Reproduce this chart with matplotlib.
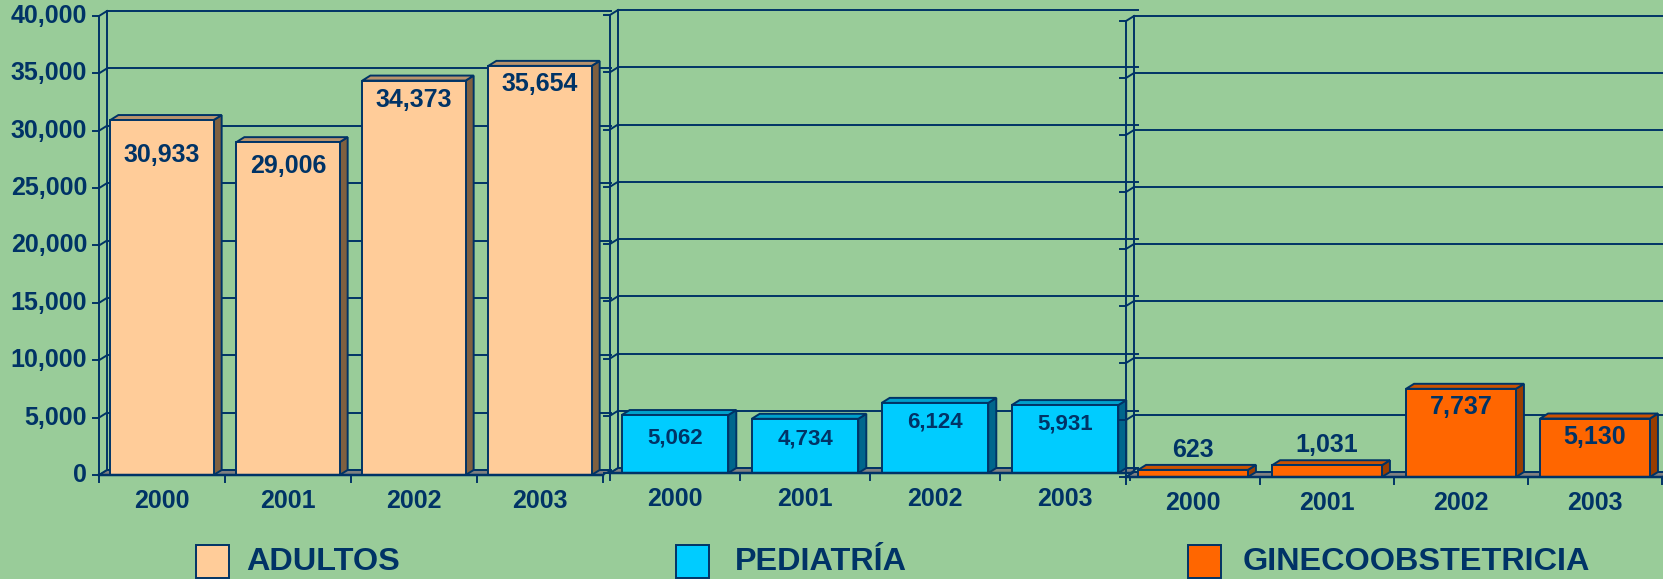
import matplotlib
matplotlib.use("Agg")
import matplotlib.pyplot as plt
from matplotlib.patches import Rectangle, Polygon
from matplotlib.lines import Line2D

# ---------------- data ----------------
years = ["2000", "2001", "2002", "2003"]
adultos = [30933, 29006, 34373, 35654]
pediatria = [5062, 4734, 6124, 5931]
gineco = [623, 1031, 7737, 5130]
series_names = ["ADULTOS", "PEDIATRÍA", "GINECOOBSTETRICIA"]
y_ticks = [0, 5000, 10000, 15000, 20000, 25000, 30000, 35000, 40000]
y_tick_labels = ["0", "5,000", "10,000", "15,000", "20,000", "25,000", "30,000", "35,000", "40,000"]

# ---------------- style ----------------
W, H = 1663, 579
BG = "#99CC99"
NAVY = "#003366"
FONT = "Liberation Sans"
plt.rcParams["font.family"] = [FONT, "DejaVu Sans"]

colors = [
    dict(front="#FFCC99", top="#B8926C", side="#7F6040"),
    dict(front="#00CCFF", top="#00A0CC", side="#00668C"),
    dict(front="#FF6600", top="#CC5200", side="#993D00"),
]

# panel geometry in pixels (x0, x1, baseline y, top y), top-origin
panels = [
    (99, 603, 475, 16),
    (610, 1130, 473, 15),
    (1126, 1662, 477, 21),
]
value_fs = [18, 16, 18]
# value-label vertical offsets from the bar's front top, in px (negative = inside)
label_off_px = [
    [-35, -24, -19, -18],
    [-23, -20, -19, -19],
    [20, 20, -18, -18],
]
DX, DY = 8, 5  # 3D depth in px
BAR_W = 0.82
YMAX = 40000

fig = plt.figure(figsize=(W / 100, H / 100), dpi=100)
fig.patch.set_facecolor(BG)

data_sets = [adultos, pediatria, gineco]

for p, (vals, (x0, x1, yb, yt)) in enumerate(zip(data_sets, panels)):
    ax = fig.add_axes([x0 / W, (H - yb) / H, (x1 - x0) / W, (yb - yt) / H])
    ax.set_xlim(-0.5, 3.5)
    ax.set_ylim(0, YMAX)
    ax.set_axis_off()
    ax.patch.set_visible(False)

    pxx = (x1 - x0) / 4.0          # px per x unit
    pxy = (yb - yt) / YMAX         # px per y unit
    ddx = DX / pxx
    ddy = DY / pxy
    lw = 1.4
    c = colors[p]

    # floor
    ax.add_patch(Polygon([(-0.5, 0), (3.5, 0), (3.5 + ddx, ddy), (-0.5 + ddx, ddy)],
                         closed=True, facecolor="#808080", edgecolor=NAVY, lw=1.0,
                         zorder=1, clip_on=False))
    # back-wall gridlines and left wall connectors
    for yv in y_ticks:
        ax.add_line(Line2D([-0.5 + ddx, 3.5 + ddx], [yv + ddy, yv + ddy], color=NAVY,
                           lw=lw, zorder=1.5, clip_on=False))
        ax.add_line(Line2D([-0.5, -0.5 + ddx], [yv, yv + ddy], color=NAVY,
                           lw=lw, zorder=1.5, clip_on=False))
        ax.add_line(Line2D([-0.5 - 6 / pxx, -0.5], [yv, yv], color=NAVY,
                           lw=lw, zorder=1.5, clip_on=False))
    # left wall verticals
    ax.add_line(Line2D([-0.5, -0.5], [0, YMAX], color=NAVY, lw=lw, zorder=1.5, clip_on=False))
    ax.add_line(Line2D([-0.5 + ddx, -0.5 + ddx], [ddy, YMAX + ddy], color=NAVY, lw=lw,
                       zorder=1.5, clip_on=False))

    # bars
    for i, v in enumerate(vals):
        l, r = i - BAR_W / 2, i + BAR_W / 2
        ax.add_patch(Polygon([(r, 0), (r + ddx, ddy), (r + ddx, v + ddy), (r, v)], closed=True,
                             facecolor=c["side"], edgecolor=NAVY, lw=lw, zorder=2, clip_on=False))
        ax.add_patch(Polygon([(l, v), (r, v), (r + ddx, v + ddy), (l + ddx, v + ddy)], closed=True,
                             facecolor=c["top"], edgecolor=NAVY, lw=lw, zorder=2, clip_on=False))
        ax.add_patch(Rectangle((l, 0), BAR_W, v, facecolor=c["front"], edgecolor=NAVY,
                               lw=lw, zorder=3, clip_on=False))
        off = label_off_px[p][i]
        ax.annotate(f"{v:,}", (i, v), xytext=(0, off * 0.72), textcoords="offset points",
                    ha="center", va="center", fontsize=value_fs[p], fontweight="bold",
                    color=NAVY, zorder=5, annotation_clip=False)

    # front baseline and x ticks
    ax.add_line(Line2D([-0.5, 3.5], [0, 0], color=NAVY, lw=lw + 0.4, zorder=4, clip_on=False))
    for xb in [-0.5, 0.5, 1.5, 2.5, 3.5]:
        ax.add_line(Line2D([xb, xb], [0, -7 / pxy], color=NAVY, lw=lw, zorder=4, clip_on=False))
    for i, yr in enumerate(years):
        ax.text(i, -26 / pxy, yr, ha="center", va="center", fontsize=18, fontweight="bold",
                color=NAVY)

    if p == 0:
        for yv, lab in zip(y_ticks, y_tick_labels):
            ax.text(-0.5 - 12 / pxx, yv, lab, ha="right", va="center", fontsize=18,
                    fontweight="bold", color=NAVY)

# legend (figure pixel coords)
leg = [(196, 246), (676, 735), (1188, 1243)]
for (sx, tx), name, c in zip(leg, series_names, colors):
    fig.patches.append(Rectangle((sx / W, (H - 578) / H), 33 / W, 33 / H,
                                 transform=fig.transFigure, facecolor=c["front"],
                                 edgecolor=NAVY, lw=1.4))
    fig.text(tx / W, (H - 562) / H, name, ha="left", va="center", fontsize=23.3,
             fontweight="bold", color=NAVY)

fig.savefig("out.png", dpi=100, facecolor=BG)
